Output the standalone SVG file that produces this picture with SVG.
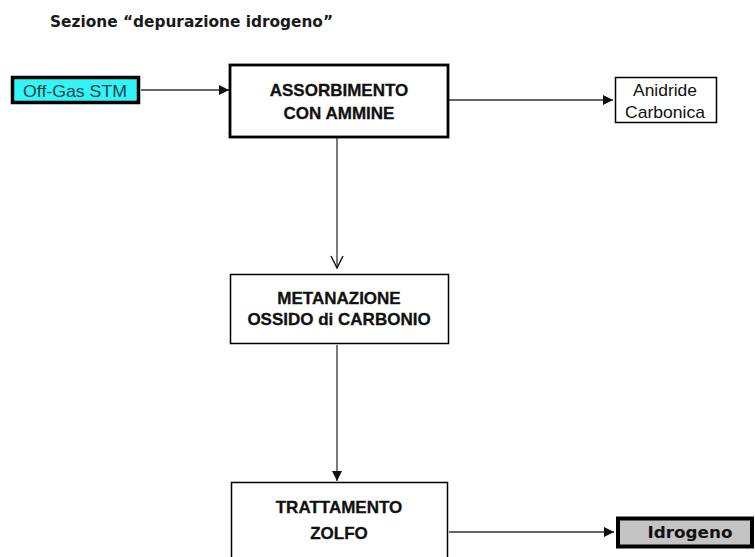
<svg xmlns="http://www.w3.org/2000/svg" width="755" height="557" viewBox="0 0 755 557">
  <style>
    .box { fill: #ffffff; stroke: #000000; }
    .lbl { font-family: "Liberation Sans", Arial, sans-serif; font-weight: bold; font-size: 17px; fill: #111111; text-anchor: middle; stroke: #111111; stroke-width: 0.3; }
    .plain { font-family: "Liberation Sans", Arial, sans-serif; font-size: 17px; fill: #111111; text-anchor: middle; }
    .wire { fill: none; stroke: #333333; stroke-width: 1.3; }
  </style>
  <defs>
    <marker id="tri" viewBox="0 0 10 10" refX="10" refY="5" markerWidth="10" markerHeight="10" markerUnits="userSpaceOnUse" orient="auto">
      <path d="M0,0 L10,5 L0,10 z" fill="#111111"/>
    </marker>
    <marker id="vee" viewBox="0 0 14 14" refX="13" refY="7" markerWidth="14" markerHeight="14" markerUnits="userSpaceOnUse" orient="auto">
      <path d="M1,1 L13,7 L1,13" fill="none" stroke="#111111" stroke-width="1.4"/>
    </marker>
  </defs>

  <!-- title -->
  <text x="50" y="27" font-family="DejaVu Sans, Verdana, sans-serif" font-weight="bold" font-size="16" fill="#1a1a1a" textLength="283" lengthAdjust="spacingAndGlyphs">Sezione “depurazione idrogeno”</text>

  <!-- connectors -->
  <g id="connectors">
    <line class="wire" x1="141" y1="90" x2="229" y2="90" marker-end="url(#tri)"/>
    <line class="wire" x1="449" y1="100" x2="613" y2="100" marker-end="url(#tri)"/>
    <line class="wire" x1="337" y1="138" x2="337" y2="268" marker-end="url(#vee)"/>
    <line class="wire" x1="337" y1="345" x2="337" y2="481" marker-end="url(#tri)"/>
    <line class="wire" x1="449" y1="532" x2="614" y2="532" marker-end="url(#tri)"/>
  </g>

  <!-- input stream -->
  <g id="offgas">
    <rect x="12.5" y="77.5" width="126" height="25" fill="#33f5f5" stroke="#000000" stroke-width="3.5"/>
    <text x="75" y="97" font-family="Liberation Sans, Arial, sans-serif" font-size="17" fill="#17404d" text-anchor="middle" textLength="104" lengthAdjust="spacingAndGlyphs">Off-Gas STM</text>
  </g>

  <g id="assorbimento">
    <rect class="box" x="230" y="65" width="218" height="72" stroke-width="2.8"/>
    <text class="lbl" x="339" y="96">ASSORBIMENTO</text>
    <text class="lbl" x="339" y="119">CON AMMINE</text>
  </g>

  <g id="anidride">
    <rect class="box" x="615.5" y="77.5" width="101" height="45" stroke-width="1.5"/>
    <text class="plain" x="665" y="96" textLength="64" lengthAdjust="spacingAndGlyphs">Anidride</text>
    <text class="plain" x="665" y="118" textLength="80" lengthAdjust="spacingAndGlyphs">Carbonica</text>
  </g>

  <g id="metanazione">
    <rect class="box" x="230.5" y="274.5" width="218" height="69" stroke-width="1.5"/>
    <text class="lbl" x="339" y="304">METANAZIONE</text>
    <text class="lbl" x="339" y="325">OSSIDO di CARBONIO</text>
  </g>

  <g id="trattamento">
    <rect class="box" x="231.5" y="482.5" width="216" height="90" stroke-width="1.5"/>
    <text class="lbl" x="339" y="513">TRATTAMENTO</text>
    <text class="lbl" x="339" y="539">ZOLFO</text>
  </g>

  <!-- output stream -->
  <g id="idrogeno">
    <rect x="618" y="518.5" width="134" height="28" fill="#c4c4c4" stroke="#000000" stroke-width="4"/>
    <text x="690" y="538" font-family="DejaVu Sans, Verdana, sans-serif" font-weight="bold" font-size="16" fill="#111111" text-anchor="middle" textLength="85" lengthAdjust="spacingAndGlyphs">Idrogeno</text>
  </g>
</svg>
